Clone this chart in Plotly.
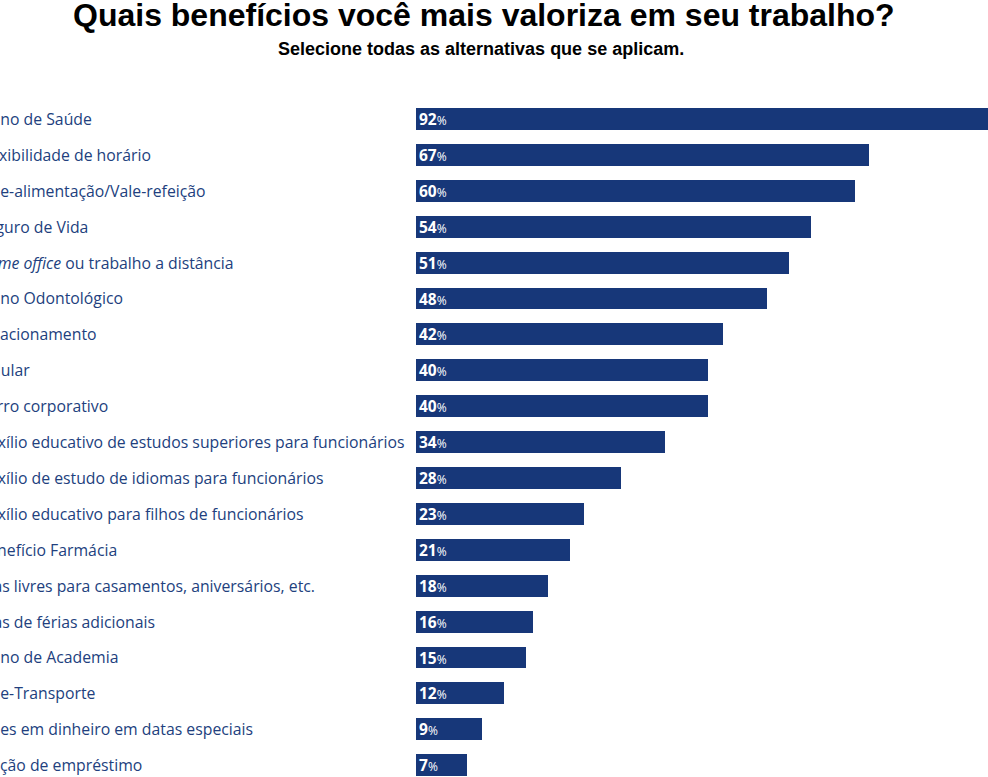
import plotly.graph_objects as go

# data
beneficios = [
    "Plano de Saúde",
    "Flexibilidade de horário",
    "Vale-alimentação/Vale-refeição",
    "Seguro de Vida",
    "<i>Home office</i> ou trabalho a distância",
    "Plano Odontológico",
    "Estacionamento",
    "Celular",
    "Carro corporativo",
    "Auxílio educativo de estudos superiores para funcionários",
    "Auxílio de estudo de idiomas para funcionários",
    "Auxílio educativo para filhos de funcionários",
    "Benefício Farmácia",
    "Dias livres para casamentos, aniversários, etc.",
    "Dias de férias adicionais",
    "Plano de Academia",
    "Vale-Transporte",
    "Vales em dinheiro em datas especiais",
    "Opção de empréstimo",
]
# bar lengths as drawn (the 67% bar is drawn shorter in the original)
comprimento = [92, 62, 60, 54, 51, 48, 42, 40, 40, 34, 28, 23, 21, 18, 16, 15, 12, 9, 7]
percentuais = [92, 67, 60, 54, 51, 48, 42, 40, 40, 34, 28, 23, 21, 18, 16, 15, 12, 9, 7]

AZUL = "#173779"
TEXTO = "#223f7e"

W, H = 988, 777
L, T = 416, 101
plot_w = W - L
plot_h = H - T
px_per_pct = 7.31
row_px = 35.9

rotulos = ["<b>%d</b><span style='font-size:12px'>%%</span>" % p for p in percentuais]

fig = go.Figure(go.Bar(
    x=comprimento,
    y=beneficios,
    orientation="h",
    marker=dict(color=AZUL, line=dict(width=0)),
    width=0.61,
    text=rotulos,
    textposition="inside",
    insidetextanchor="start",
    textangle=0,
    textfont=dict(family="Open Sans, sans-serif", size=15.5, color="white"),
    hoverinfo="skip",
))

def px_to_paper(px):
    return (px - L) / plot_w

def py_to_paper(py):
    return 1 + (T - py) / plot_h

# category labels, left-aligned and partially cut off at the page edge
for b in beneficios:
    fig.add_annotation(
        x=px_to_paper(-24), xref="paper", y=b, yref="y",
        text=b, showarrow=False, xanchor="left", yanchor="middle",
        font=dict(family="Open Sans, sans-serif", size=15.8, color=TEXTO),
    )

fig.add_annotation(
    x=px_to_paper(484), xref="paper", y=py_to_paper(15), yref="paper",
    text="<b>Quais benefícios você mais valoriza em seu trabalho?</b>",
    showarrow=False, xanchor="center", yanchor="middle",
    font=dict(family="Liberation Sans Narrow, Arial Narrow, sans-serif", size=32, color="black"),
)
fig.add_annotation(
    x=px_to_paper(481), xref="paper", y=py_to_paper(49), yref="paper",
    text="<b>Selecione todas as alternativas que se aplicam.</b>",
    showarrow=False, xanchor="center", yanchor="middle",
    font=dict(family="Liberation Sans Narrow, Arial Narrow, sans-serif", size=18, color="black"),
)

y_bottom = -0.5 + plot_h / row_px
fig.update_layout(
    width=W, height=H,
    margin=dict(l=L, r=0, t=T, b=0, pad=0),
    paper_bgcolor="white", plot_bgcolor="white",
    showlegend=False,
    bargap=0,
    uniformtext=dict(minsize=15.5, mode="show"),
    xaxis=dict(range=[0, plot_w / px_per_pct], visible=False, fixedrange=True),
    yaxis=dict(range=[y_bottom, -0.5], visible=False, fixedrange=True,
               categoryorder="array", categoryarray=beneficios),
)

# remove the default page margin so the figure sits at the window's corner
fig.write_html("out.html", config={"displayModeBar": False},
               post_script="document.body.style.margin='0';document.body.style.overflow='hidden';")
